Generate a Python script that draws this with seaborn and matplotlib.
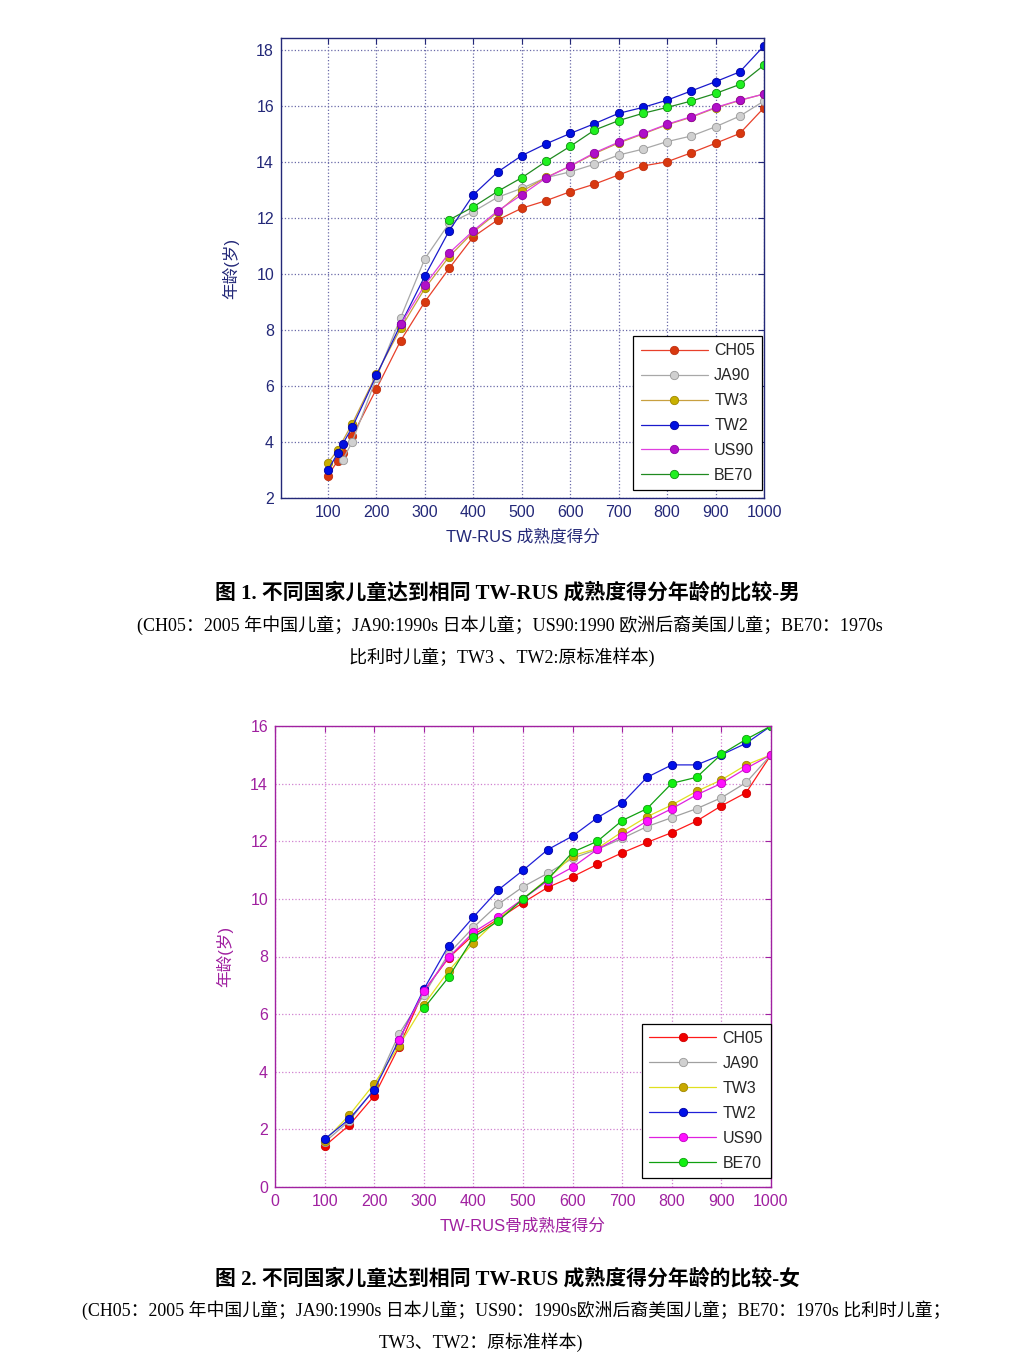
import matplotlib
matplotlib.use("Agg")
import matplotlib.pyplot as plt
import seaborn as sns
import numpy as np
import pandas as pd

nan = np.nan
series_names = ['CH05', 'JA90', 'TW3', 'TW2', 'US90', 'BE70']

# boys (figure 1)
boys_scores = [100, 120, 130, 150, 200, 250, 300, 350, 400, 450, 500,
               550, 600, 650, 700, 750, 800, 850, 900, 950, 1000]
boys_ch05 = [2.80, 3.33, 3.60, 4.20, 5.90, 7.62, 9.01, 10.20, 11.33, 11.93, 12.35,
             12.62, 12.94, 13.21, 13.54, 13.86, 14.01, 14.33, 14.67, 15.02, 15.94]
boys_ja90 = [nan, nan, 3.35, 4.00, 6.30, 8.44, 10.55, 11.81, 12.23, 12.74, 13.06,
             13.44, 13.65, 13.92, 14.25, 14.46, 14.73, 14.93, 15.26, 15.64, 16.18]
boys_tw3 = [3.25, 3.72, nan, 4.65, 6.42, 8.06, 9.49, 10.62, 11.50, 12.20, 12.95,
            13.45, 13.85, 14.30, 14.68, 15.00, 15.33, 15.60, 15.93, 16.20, 16.43]
boys_tw2 = [3.00, 3.60, 3.92, 4.52, 6.38, 8.20, 9.93, 11.54, 12.83, 13.64, 14.23,
            14.65, 15.02, 15.37, 15.74, 15.95, 16.21, 16.54, 16.87, 17.22, 18.15]
boys_us90 = [nan, nan, nan, nan, nan, 8.21, 9.61, 10.75, 11.55, 12.25, 12.83,
             13.43, 13.86, 14.33, 14.71, 15.02, 15.35, 15.62, 15.95, 16.21, 16.43]
boys_be70 = [nan, nan, nan, nan, nan, nan, nan, 11.93, 12.40, 12.95, 13.44,
             14.02, 14.56, 15.14, 15.48, 15.74, 15.95, 16.18, 16.45, 16.77, 17.46]

# girls (figure 2)
girls_scores = [100, 150, 200, 250, 300, 350, 400, 450, 500, 550,
                600, 650, 700, 750, 800, 850, 900, 950, 1000]
girls_ch05 = [1.42, 2.15, 3.16, 4.87, 6.80, 7.95, 8.75, 9.30, 9.87, 10.40,
              10.77, 11.20, 11.60, 11.96, 12.30, 12.70, 13.23, 13.69, 15.00]
girls_ja90 = [1.55, 2.30, 3.40, 5.31, 6.66, 8.10, 9.01, 9.81, 10.42, 10.89,
              11.41, 11.72, 12.10, 12.51, 12.82, 13.13, 13.51, 14.04, 15.00]
girls_tw3 = [1.60, 2.50, 3.58, 4.90, 6.32, 7.50, 8.48, 9.30, 10.00, 10.70,
             11.50, 11.75, 12.33, 12.85, 13.26, 13.73, 14.13, 14.65, 15.00]
girls_tw2 = [1.66, 2.36, 3.37, 5.10, 6.86, 8.38, 9.37, 10.31, 10.99, 11.71,
             12.18, 12.82, 13.32, 14.22, 14.65, 14.65, 15.00, 15.40, 16.00]
girls_us90 = [nan, nan, nan, 5.10, 6.80, 7.97, 8.84, 9.38, 10.00, 10.63,
              11.10, 11.72, 12.18, 12.70, 13.13, 13.61, 14.01, 14.53, 15.00]
girls_be70 = [nan, nan, nan, nan, 6.20, 7.28, 8.67, 9.23, 10.00, 10.68,
              11.62, 12.00, 12.72, 13.13, 14.01, 14.22, 15.02, 15.54, 16.00]

boys_colors = {  # line, marker face, marker edge
    'CH05': ('#e8402a', '#d8380f', '#c03010'),
    'JA90': ('#a8a8a8', '#d0d0d0', '#999999'),
    'TW3': ('#c8a040', '#c8b000', '#a08800'),
    'TW2': ('#1a1acc', '#0010e0', '#0000a0'),
    'US90': ('#e040e0', '#b010c8', '#9000a8'),
    'BE70': ('#208a20', '#20f020', '#109010'),
}
girls_colors = {
    'CH05': ('#ff1a1a', '#f00000', '#d00000'),
    'JA90': ('#a0a0a0', '#d0d0d0', '#999999'),
    'TW3': ('#e0e020', '#c8a800', '#a08800'),
    'TW2': ('#2020d8', '#0010e8', '#0000a0'),
    'US90': ('#e020e0', '#ff10ff', '#c000c0'),
    'BE70': ('#10a010', '#10f010', '#10a010'),
}


def long_table(scores, cols):
    df = pd.DataFrame({'score': scores})
    for name, vals in zip(series_names, cols):
        df[name] = vals
    return df.melt(id_vars='score', var_name='series', value_name='age').dropna()


sans = ['Liberation Sans', 'Noto Sans CJK SC']
serif = ['Liberation Serif', 'Noto Sans CJK SC']

sns.set_style('white')
plt.rcParams['font.family'] = sans

fig = plt.figure(figsize=(10.28, 13.68), dpi=100)


def draw_panel(ax, df, colors, axcol, gridcol, xlabel, xticks, ylim, xlim, yticks, leg_anchor):
    for name in series_names:
        line, face, edge = colors[name]
        sns.lineplot(data=df[df.series == name], x='score', y='age', ax=ax,
                     color=line, lw=0.9, marker='o', markersize=6,
                     markerfacecolor=face, markeredgecolor=edge, markeredgewidth=0.6,
                     label=name, sort=False)
    ax.set_xlim(*xlim)
    ax.set_ylim(*ylim)
    ax.set_xticks(xticks)
    ax.set_yticks(yticks)
    ax.grid(True, linestyle=':', color=gridcol, lw=0.9)
    for s in ax.spines.values():
        s.set_color(axcol)
        s.set_linewidth(1.0)
    ax.tick_params(direction='in', top=True, right=True, length=4, width=0.8,
                   colors=axcol, labelsize=11.5, pad=5)
    ax.set_xlabel(xlabel, color=axcol, fontsize=12, labelpad=6)
    ax.set_ylabel('年龄(岁)', color=axcol, fontsize=12, labelpad=12)
    leg = ax.legend(loc='lower right', bbox_to_anchor=leg_anchor, fontsize=11.5,
                    handlelength=4.2, labelspacing=0.62, handletextpad=0.4,
                    borderpad=0.45, borderaxespad=0, fancybox=False, framealpha=1,
                    edgecolor='black')
    leg.get_frame().set_linewidth(0.9)


ax1 = fig.add_axes([281 / 1028, 1 - 498 / 1368, 483 / 1028, 460 / 1368])
draw_panel(ax1, long_table(boys_scores, [boys_ch05, boys_ja90, boys_tw3, boys_tw2, boys_us90, boys_be70]),
           boys_colors, '#232878', '#6a6aa8', 'TW-RUS 成熟度得分',
           list(range(100, 1001, 100)), (2, 18.43), (3, 1000), list(range(2, 19, 2)), (0.996, 0.017))

ax2 = fig.add_axes([275 / 1028, 1 - 1187 / 1368, 496 / 1028, 461 / 1368])
draw_panel(ax2, long_table(girls_scores, [girls_ch05, girls_ja90, girls_tw3, girls_tw2, girls_us90, girls_be70]),
           girls_colors, '#a020a0', '#d080d0', 'TW-RUS骨成熟度得分',
           list(range(0, 1001, 100)), (0, 16), (0, 1000), list(range(0, 17, 2)), (0.999, 0.02))

# captions
fig.text(0.494, 1 - 593 / 1368, '图 1. 不同国家儿童达到相同 TW-RUS 成熟度得分年龄的比较-男',
         ha='center', va='center', fontsize=15, fontweight='bold', family=serif, color='black')
fig.text(137 / 1028, 1 - 625 / 1368,
         '(CH05：2005 年中国儿童；JA90:1990s 日本儿童；US90:1990 欧洲后裔美国儿童；BE70：1970s',
         ha='left', va='center', fontsize=13, family=serif, color='black')
fig.text(349 / 1028, 1 - 657 / 1368, '比利时儿童；TW3 、TW2:原标准样本)',
         ha='left', va='center', fontsize=13, family=serif, color='black')

fig.text(0.494, 1 - 1279 / 1368, '图 2. 不同国家儿童达到相同 TW-RUS 成熟度得分年龄的比较-女',
         ha='center', va='center', fontsize=15, fontweight='bold', family=serif, color='black')
fig.text(82 / 1028, 1 - 1310 / 1368,
         '(CH05：2005 年中国儿童；JA90:1990s 日本儿童；US90：1990s欧洲后裔美国儿童；BE70：1970s 比利时儿童；',
         ha='left', va='center', fontsize=12.85, family=serif, color='black')
fig.text(379 / 1028, 1 - 1342 / 1368, 'TW3、TW2：原标准样本)',
         ha='left', va='center', fontsize=12.85, family=serif, color='black')

fig.savefig('out.png', dpi=100)
plt.close(fig)
